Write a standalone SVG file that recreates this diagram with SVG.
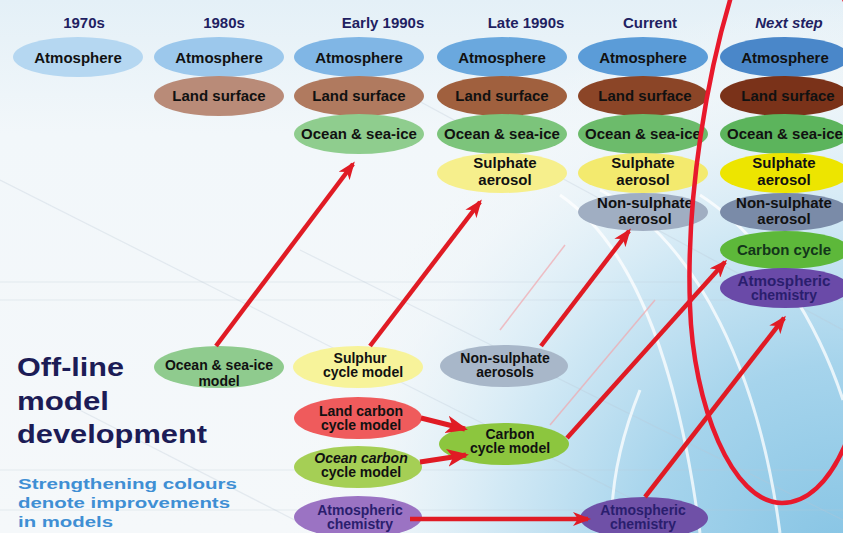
<svg xmlns="http://www.w3.org/2000/svg" width="843" height="533" viewBox="0 0 843 533">
<defs>
  <radialGradient id="globe" cx="840" cy="560" r="560" gradientUnits="userSpaceOnUse">
    <stop offset="0" stop-color="#86c4e4"/>
    <stop offset="0.35" stop-color="#a6d4ec"/>
    <stop offset="0.62" stop-color="#d2e9f5"/>
    <stop offset="0.85" stop-color="#eef5f9" stop-opacity="0.6"/>
    <stop offset="1" stop-color="#f4f8fa" stop-opacity="0"/>
  </radialGradient>
  <linearGradient id="sky" x1="0" y1="0" x2="0" y2="1">
    <stop offset="0" stop-color="#e4f0f7"/>
    <stop offset="0.25" stop-color="#f2f7fa"/>
    <stop offset="1" stop-color="#f5f8fa"/>
  </linearGradient>
  <marker id="ah" viewBox="0 0 18 14" refX="15" refY="7" markerWidth="18" markerHeight="14" markerUnits="userSpaceOnUse" orient="auto">
    <path d="M0,0 L18,7 L0,14 L5,7 z" fill="#e01b24"/>
  </marker>
  <marker id="ahb" viewBox="0 0 22 18" refX="19" refY="9" markerWidth="22" markerHeight="18" markerUnits="userSpaceOnUse" orient="auto">
    <path d="M0,0 L22,9 L0,18 L6,9 z" fill="#e01b24"/>
  </marker>
  <style>
    .hdr { font-family: "Liberation Sans", Arial, sans-serif; font-weight: bold; font-size: 15px; fill: #1f1f62; text-anchor: middle; }
    .n text { font-family: "Liberation Sans", Arial, sans-serif; font-weight: bold; font-size: 15px; fill: #111; text-anchor: middle; }
    .n text.sm { font-size: 14px; }
    .n text.pu { fill: #2a1e6e; }
    .arrow { stroke: #e01b24; stroke-width: 4.5; fill: none; marker-end: url(#ah); }
    .arrowb { stroke: #e01b24; stroke-width: 5; fill: none; marker-end: url(#ahb); }
    .title { font-family: "Liberation Sans", Arial, sans-serif; font-weight: bold; font-size: 25px; fill: #1c1c56; }
    .note { font-family: "Liberation Sans", Arial, sans-serif; font-weight: bold; font-size: 14.5px; fill: #3f8fd4; }
    .grid { stroke: #b9c8d4; stroke-width: 1.2; fill: none; opacity: 0.3; }
    .arc { stroke: #ffffff; stroke-width: 3; fill: none; opacity: 0.75; }
  </style>
</defs>

<g id="background">
  <rect x="0" y="0" width="843" height="533" fill="url(#sky)"/>
  <rect x="0" y="0" width="843" height="533" fill="url(#globe)"/>
  <line class="grid" x1="0" y1="282" x2="843" y2="282"/>
  <line class="grid" x1="0" y1="300" x2="843" y2="300"/>
  <line class="grid" x1="0" y1="470" x2="843" y2="470"/>
  <line class="grid" x1="0" y1="510" x2="843" y2="510"/>
  <line class="grid" x1="0" y1="180" x2="700" y2="533"/>
  <line class="grid" x1="60" y1="400" x2="320" y2="533"/>
  <line class="grid" x1="300" y1="250" x2="843" y2="520"/>
  <line class="grid" x1="380" y1="80" x2="843" y2="330"/>
  <path class="arc" d="M560,195 C640,250 680,380 700,533"/>
  <path class="arc" d="M600,190 C700,240 760,380 780,533"/>
  <path class="arc" d="M700,195 C770,240 820,330 843,400"/>
  <path class="arc" d="M640,390 C620,440 610,490 612,533"/>
  <line x1="500" y1="330" x2="565" y2="245" stroke="#f2a7ad" stroke-width="1.5" opacity="0.7"/>
  <line x1="550" y1="425" x2="655" y2="300" stroke="#f2a7ad" stroke-width="1.5" opacity="0.7"/>
</g>

<g id="headers">
  <text class="hdr" x="84" y="28">1970s</text>
  <text class="hdr" x="224" y="28">1980s</text>
  <text class="hdr" x="383" y="28">Early 1990s</text>
  <text class="hdr" x="526" y="28">Late 1990s</text>
  <text class="hdr" x="650" y="28">Current</text>
  <text class="hdr" x="789" y="28" font-style="italic">Next step</text>
</g>

<!-- 1970s -->
<g id="atm-1970s" class="n"><ellipse cx="78" cy="57" rx="65" ry="20" fill="#b5d7f1"/><text x="78" y="63">Atmosphere</text></g>
<!-- 1980s -->
<g id="atm-1980s" class="n"><ellipse cx="219" cy="57" rx="65" ry="20" fill="#9cc8ec"/><text x="219" y="63">Atmosphere</text></g>
<g id="land-1980s" class="n"><ellipse cx="219" cy="96" rx="65" ry="20" fill="#b98b78"/><text x="219" y="101">Land surface</text></g>
<!-- Early 1990s -->
<g id="atm-early1990s" class="n"><ellipse cx="359" cy="57" rx="65" ry="20" fill="#80b6e5"/><text x="359" y="63">Atmosphere</text></g>
<g id="land-early1990s" class="n"><ellipse cx="359" cy="96" rx="65" ry="20" fill="#b07a5f"/><text x="359" y="101">Land surface</text></g>
<g id="ocean-early1990s" class="n"><ellipse cx="359" cy="134" rx="65" ry="20" fill="#8fcd8e"/><text x="359" y="139">Ocean &amp; sea-ice</text></g>
<!-- Late 1990s -->
<g id="atm-late1990s" class="n"><ellipse cx="502" cy="57" rx="65" ry="20" fill="#6aa8de"/><text x="502" y="63">Atmosphere</text></g>
<g id="land-late1990s" class="n"><ellipse cx="502" cy="96" rx="65" ry="20" fill="#a0603e"/><text x="502" y="101">Land surface</text></g>
<g id="ocean-late1990s" class="n"><ellipse cx="502" cy="134" rx="65" ry="20" fill="#7cc47b"/><text x="502" y="139">Ocean &amp; sea-ice</text></g>
<g id="sulph-late1990s" class="n"><ellipse cx="502" cy="173" rx="65" ry="20" fill="#f6ef8c"/><text x="505" y="168">Sulphate</text><text x="505" y="185">aerosol</text></g>
<!-- Current -->
<g id="atm-current" class="n"><ellipse cx="643" cy="57" rx="65" ry="20" fill="#5b9cd8"/><text x="643" y="63">Atmosphere</text></g>
<g id="land-current" class="n"><ellipse cx="643" cy="96" rx="65" ry="20" fill="#8b4527"/><text x="645" y="101">Land surface</text></g>
<g id="ocean-current" class="n"><ellipse cx="643" cy="134" rx="65" ry="20" fill="#6cbb6b"/><text x="643" y="139">Ocean &amp; sea-ice</text></g>
<g id="sulph-current" class="n"><ellipse cx="643" cy="173" rx="65" ry="20" fill="#f3ea6e"/><text x="643" y="168">Sulphate</text><text x="643" y="185">aerosol</text></g>
<g id="nonsulph-current" class="n"><ellipse cx="643" cy="212" rx="65" ry="19" fill="#a0aec2"/><text x="645" y="208">Non-sulphate</text><text x="645" y="224">aerosol</text></g>
<!-- Next step -->
<g id="atm-next" class="n"><ellipse cx="785" cy="57" rx="65" ry="20" fill="#4a87c9"/><text x="785" y="63">Atmosphere</text></g>
<g id="land-next" class="n"><ellipse cx="785" cy="96" rx="65" ry="20" fill="#7a3219"/><text x="788" y="101">Land surface</text></g>
<g id="ocean-next" class="n"><ellipse cx="785" cy="134" rx="65" ry="20" fill="#5cb45c"/><text x="785" y="139">Ocean &amp; sea-ice</text></g>
<g id="sulph-next" class="n"><ellipse cx="785" cy="173" rx="65" ry="20" fill="#ede500"/><text x="784" y="168">Sulphate</text><text x="784" y="185">aerosol</text></g>
<g id="nonsulph-next" class="n"><ellipse cx="785" cy="212" rx="65" ry="19" fill="#7a8ba8"/><text x="784" y="208">Non-sulphate</text><text x="784" y="224">aerosol</text></g>
<g id="carbon-next" class="n"><ellipse cx="785" cy="250" rx="65" ry="19" fill="#5db83a"/><text x="784" y="255" style="fill:#13361a">Carbon cycle</text></g>
<g id="atmchem-next" class="n"><ellipse cx="785" cy="288" rx="65" ry="20" fill="#6a4aa8"/><text class="sm pu" x="784" y="286" textLength="93" lengthAdjust="spacingAndGlyphs">Atmospheric</text><text class="sm pu" x="784" y="300">chemistry</text></g>

<!-- Off-line models -->
<g id="ocean-model" class="n"><ellipse cx="219" cy="367" rx="65" ry="21" fill="#8fcb8e"/><text class="sm" x="219" y="370">Ocean &amp; sea-ice</text><text class="sm" x="219" y="386">model</text></g>
<g id="sulphur-model" class="n"><ellipse cx="358" cy="367" rx="65" ry="21" fill="#f7f39a"/><text class="sm" x="360" y="363">Sulphur</text><text class="sm" x="363" y="377">cycle model</text></g>
<g id="nonsulph-aerosols" class="n"><ellipse cx="504" cy="366" rx="64" ry="21" fill="#a8b7c9"/><text class="sm" x="505" y="363">Non-sulphate</text><text class="sm" x="505" y="377">aerosols</text></g>
<g id="landcarbon-model" class="n"><ellipse cx="358" cy="418" rx="64" ry="21" fill="#ef5b5c"/><text class="sm" x="361" y="416">Land carbon</text><text class="sm" x="361" y="430">cycle model</text></g>
<g id="oceancarbon-model" class="n"><ellipse cx="358" cy="467" rx="64" ry="21" fill="#a5cf55"/><text class="sm" x="361" y="463" font-style="italic">Ocean carbon</text><text class="sm" x="361" y="477">cycle model</text></g>
<g id="carbon-model" class="n"><ellipse cx="504" cy="444" rx="65" ry="21" fill="#8cc63e"/><text class="sm" x="510" y="439">Carbon</text><text class="sm" x="510" y="453">cycle model</text></g>
<g id="atmchem-offline" class="n"><ellipse cx="358" cy="517" rx="64" ry="21" fill="#9b73c3"/><text class="sm pu" x="360" y="515">Atmospheric</text><text class="sm pu" x="360" y="529">chemistry</text></g>
<g id="atmchem-current" class="n"><ellipse cx="644" cy="518" rx="64" ry="21" fill="#6f50a7"/><text class="sm pu" x="643" y="515">Atmospheric</text><text class="sm pu" x="643" y="529">chemistry</text></g>

<g id="title">
  <text class="title" x="17" y="376" textLength="107" lengthAdjust="spacingAndGlyphs">Off-line</text>
  <text class="title" x="17" y="410" textLength="92" lengthAdjust="spacingAndGlyphs">model</text>
  <text class="title" x="17" y="443" textLength="190" lengthAdjust="spacingAndGlyphs">development</text>
</g>
<g id="note">
  <text class="note" x="18" y="489" textLength="219" lengthAdjust="spacingAndGlyphs">Strengthening colours</text>
  <text class="note" x="18" y="508" textLength="212" lengthAdjust="spacingAndGlyphs">denote improvements</text>
  <text class="note" x="18" y="527" textLength="95" lengthAdjust="spacingAndGlyphs">in models</text>
</g>

<g id="connectors">
  <line class="arrow" x1="216" y1="346" x2="353" y2="164"/>
  <line class="arrow" x1="370" y1="346" x2="480" y2="202"/>
  <line class="arrow" x1="541" y1="346" x2="629" y2="231"/>
  <line class="arrow" x1="567" y1="438" x2="725" y2="262"/>
  <line class="arrow" x1="645" y1="497" x2="784" y2="318"/>
  <line class="arrowb" x1="421" y1="418" x2="465" y2="429"/>
  <line class="arrowb" x1="420" y1="462" x2="466" y2="455"/>
  <line class="arrow" x1="410" y1="519" x2="588" y2="519"/>
</g>

<g id="highlight">
  <path d="M738,-25 C706,70 686,200 690,306 C693,405 732,503 782,503 C832,503 868,420 874,300 C880,170 866,40 842,-5 C818,-50 752,-65 738,-25 Z" fill="none" stroke="#e8192c" stroke-width="4.5"/>
</g>
</svg>
